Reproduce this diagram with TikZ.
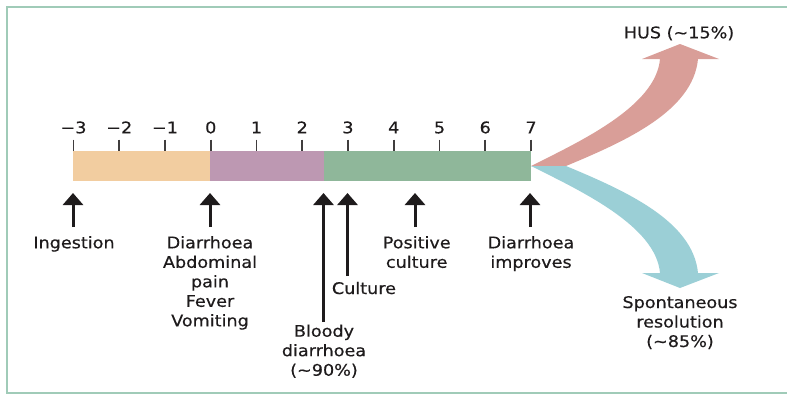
\documentclass[tikz,border=0pt]{standalone}
\usepackage{fontspec}
\setmainfont{DejaVu Sans}[FakeStretch=1.1,FakeBold=0.4]
\usetikzlibrary{arrows.meta}
\definecolor{framec}{HTML}{A0CBB8}
\definecolor{orangec}{HTML}{F2CDA0}
\definecolor{purplec}{HTML}{BD98B2}
\definecolor{greenc}{HTML}{8FB79A}
\definecolor{pinkc}{HTML}{D99E98}
\definecolor{bluec}{HTML}{9BCFD6}
\definecolor{inkc}{HTML}{1E1B1C}
\newcommand\fanpath{(0,0) -- (35,0) .. controls (95,25) and (162,55) .. (167,107) -- (188,107) -- (149,122) -- (111,107) -- (129,107) .. controls (125,60) and (50,25) .. (0,0) -- cycle}
\begin{document}
\begin{tikzpicture}[x=1pt,y=-1pt,
  lbl/.style={font=\fontsize{16}{19.5}\selectfont, text=inkc, inner sep=0pt, align=center, anchor=base},
  ticklbl/.style={font=\fontsize{16}{19.5}\selectfont, text=inkc, inner sep=0pt, anchor=base},
  tickmark/.style={draw=inkc!85, line width=1.6pt},
  uparrow/.style={draw=inkc, line width=3pt, -{Triangle[width=20pt,length=12pt]}}
]
\useasboundingbox (0,0) rectangle (787,394);
% frame
\draw[framec, line width=2pt] (787,7) -- (7,7) -- (7,392.5) -- (787,392.5);
% branching arrows
\begin{scope}[shift={(531,166)}, yscale=-1]
  \fill[pinkc] \fanpath;
\end{scope}
\begin{scope}[shift={(531,166)}]
  \fill[bluec] \fanpath;
\end{scope}
% bar
\fill[orangec] (73,151) rectangle (210,181);
\fill[purplec] (210,151) rectangle (324,181);
\fill[greenc] (324,151) rectangle (531,181);
% ticks and numbers
\foreach \n [count=\i from 0] in {−3,−2,−1,0,1,2,3,4,5,6,7} {
  \pgfmathsetmacro{\xx}{73.5+\i*45.75}
  \draw[tickmark] (\xx,139.5) -- (\xx,151);
  \node[ticklbl] (t\i) at (\xx,133.3) {\n};
}
% labels (base = baseline of the last line)
\node[lbl] (ingest) at (74,248.3) {Ingestion};
\node[lbl] (diarr) at (210,326.3) {Diarrhoea\\Abdominal\\pain\\Fever\\Vomiting};
\node[lbl] (bloody) at (324,375.7) {Bloody\\diarrhoea\\(\textasciitilde90\%)};
\node[lbl, anchor=base west] (cult) at (331.7,294) {Culture};
\node[lbl] (poscult) at (416.7,267.8) {Positive\\culture};
\node[lbl] (improve) at (531,267.8) {Diarrhoea\\improves};
\node[lbl] (spont) at (680,347) {Spontaneous\\resolution\\(\textasciitilde85\%)};
\node[lbl] (hus) at (679,38.3) {HUS (\textasciitilde15\%)};
% arrow end points
\coordinate (a1s) at (73,227);   \coordinate (a1e) at (73,193);
\coordinate (a2s) at (210,227);  \coordinate (a2e) at (210,193);
\coordinate (a3s) at (323.5,322); \coordinate (a3e) at (323.5,193);
\coordinate (a4s) at (347.5,276); \coordinate (a4e) at (347.5,193);
\coordinate (a5s) at (415,227);  \coordinate (a5e) at (415,193);
\coordinate (a6s) at (530,227);  \coordinate (a6e) at (530,193);
\draw[uparrow] (a1s) -- (a1e);
\draw[uparrow] (a2s) -- (a2e);
\draw[uparrow] (a3s) -- (a3e);
\draw[uparrow] (a4s) -- (a4e);
\draw[uparrow] (a5s) -- (a5e);
\draw[uparrow] (a6s) -- (a6e);
\end{tikzpicture}
\end{document}
